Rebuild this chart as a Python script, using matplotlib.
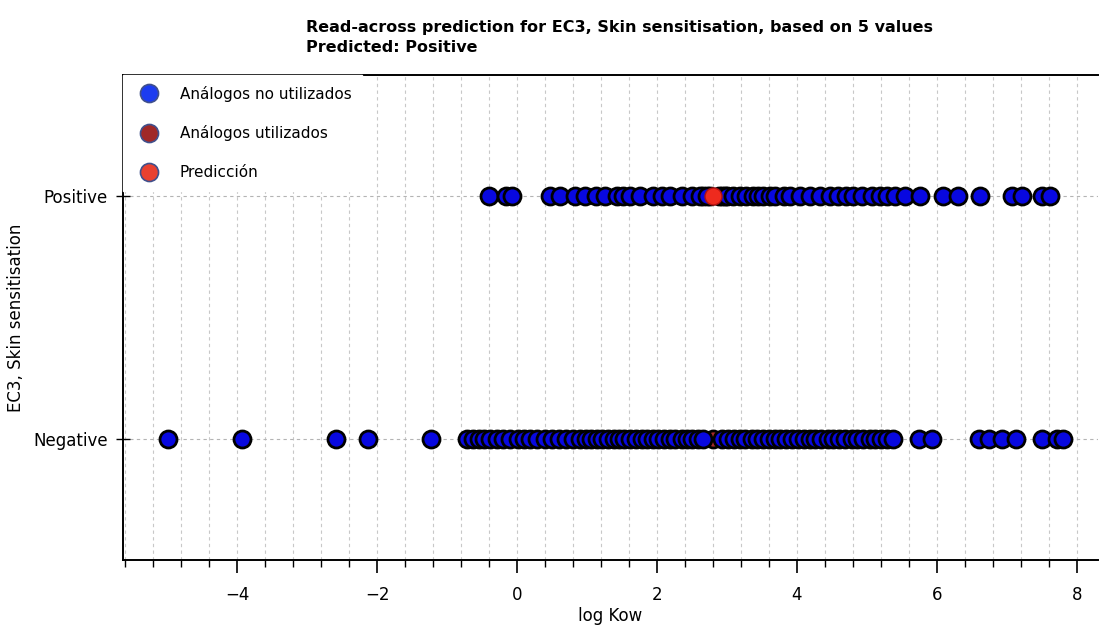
import matplotlib
matplotlib.use("Agg")
import matplotlib.pyplot as plt
from matplotlib.ticker import MultipleLocator
from matplotlib.lines import Line2D

# ---- data (log Kow values) ----
categories = ["Negative", "Positive"]

unused_positive = [-0.40, -0.16, -0.07, 0.47, 0.61, 0.83, 0.97, 1.13, 1.26, 1.43,
                   1.51, 1.61, 1.76, 1.94, 2.07, 2.19, 2.36, 2.50, 2.61, 2.71,
                   2.93, 3.00, 3.09, 3.19, 3.27, 3.37, 3.44, 3.51, 3.61, 3.69,
                   3.81, 3.90, 4.04, 4.19, 4.33, 4.47, 4.59, 4.70, 4.80, 4.93,
                   5.07, 5.19, 5.29, 5.40, 5.54, 5.76, 6.09, 6.30, 6.61, 7.07,
                   7.21, 7.50, 7.61]

unused_negative = [-4.99, -3.93, -2.59, -2.13, -1.23,
                   -0.71, -0.63, -0.55, -0.47, -0.38, -0.29, -0.20, -0.10, 0.02, 0.10,
                   0.19, 0.28, 0.40, 0.50, 0.60, 0.70, 0.80, 0.90, 0.98, 1.06,
                   1.14, 1.22, 1.30, 1.38, 1.45, 1.53, 1.61, 1.70, 1.78, 1.86,
                   1.94, 2.02, 2.10, 2.18, 2.26, 2.35, 2.43, 2.50, 2.58, 2.66,
                   2.93, 3.01, 3.10, 3.18, 3.26, 3.35, 3.43, 3.51, 3.60, 3.68,
                   3.76, 3.84, 3.93, 4.01, 4.10, 4.18, 4.26, 4.35, 4.44, 4.52,
                   4.60, 4.69, 4.78, 4.86, 4.95, 5.04, 5.12, 5.20, 5.28, 5.37,
                   5.74, 5.93, 6.60, 6.74, 6.93, 7.13, 7.50, 7.72, 7.80]

used_x = [2.65, 2.75, 2.88, 2.97, 2.80]
used_cat = ["Positive", "Positive", "Positive", "Positive", "Negative"]

pred_x = [2.80]
pred_cat = ["Positive"]

title_lines = ["Read-across prediction for EC3, Skin sensitisation, based on 5 values",
               "Predicted: Positive"]
legend_labels = ["Análogos no utilizados", "Análogos utilizados", "Predicción"]

# ---- styling ----
blue = "#0808e0"
brown = "#a52a2a"
red = "#ee2a1e"
msize = 150
ew = 2.0

fig = plt.figure(figsize=(10.99, 6.30), dpi=100)
ax = fig.add_axes([0.112, 0.111, 0.887, 0.770])

ymap = {c: i for i, c in enumerate(categories)}

ax.scatter(used_x, [ymap[c] for c in used_cat], s=msize, color=brown,
           edgecolors="black", linewidths=ew, zorder=2)
ax.scatter(unused_positive, [ymap["Positive"]] * len(unused_positive), s=msize,
           color=blue, edgecolors="black", linewidths=ew, zorder=3)
ax.scatter(unused_negative, [ymap["Negative"]] * len(unused_negative), s=msize,
           color=blue, edgecolors="black", linewidths=ew, zorder=3)
ax.scatter(pred_x, [ymap[c] for c in pred_cat], s=msize, color=red,
           edgecolors="#b01010", linewidths=1.0, zorder=4)

ax.set_xlim(-5.63, 8.3)
ax.set_ylim(-0.5, 1.5)
ax.set_yticks(range(len(categories)))
ax.set_yticklabels(categories, fontsize=12)
ax.xaxis.set_major_locator(MultipleLocator(2))
ax.xaxis.set_minor_locator(MultipleLocator(0.4))
ax.tick_params(axis="x", which="major", length=9, width=1.2, direction="out",
               labelsize=12, pad=10)
ax.tick_params(axis="x", which="minor", length=5, width=1.0, direction="out")
ax.tick_params(axis="y", which="major", length=10, width=1.0, direction="inout",
               labelsize=12, pad=6)

ax.grid(True, which="both", axis="x", color="#c8c8c8", linestyle=(0, (3, 3)),
        linewidth=0.8, zorder=0)
ax.grid(True, which="major", axis="y", color="#b4b4b4", linestyle=(0, (3, 3)),
        linewidth=0.8, zorder=0)
ax.set_axisbelow(True)

for s in ["left", "bottom", "top"]:
    ax.spines[s].set_linewidth(1.4)
ax.spines["right"].set_visible(False)

ax.set_xlabel("log Kow", fontsize=12, labelpad=2)
ax.set_ylabel("EC3, Skin sensitisation", fontsize=12, labelpad=6)

fig.text(0.278, 0.957, title_lines[0], fontsize=11.5, fontweight="bold", ha="left", va="center")
fig.text(0.278, 0.925, title_lines[1], fontsize=11.5, fontweight="bold", ha="left", va="center")

handles = [
    Line2D([], [], linestyle="none", marker="o", markersize=13, markerfacecolor="#1c3cf0",
           markeredgecolor="#40508c", markeredgewidth=1.2),
    Line2D([], [], linestyle="none", marker="o", markersize=13, markerfacecolor="#a02828",
           markeredgecolor="#40508c", markeredgewidth=1.2),
    Line2D([], [], linestyle="none", marker="o", markersize=13, markerfacecolor="#e84030",
           markeredgecolor="#40508c", markeredgewidth=1.2),
]
leg = ax.legend(handles, legend_labels, loc="upper left", frameon=True, fontsize=11,
                labelspacing=1.55, handletextpad=1.0, borderpad=0.7, borderaxespad=0.0,
                fancybox=False, framealpha=1.0)
leg.get_frame().set_edgecolor("white")
leg.set_zorder(10)

fig.savefig("out.png", dpi=100)
